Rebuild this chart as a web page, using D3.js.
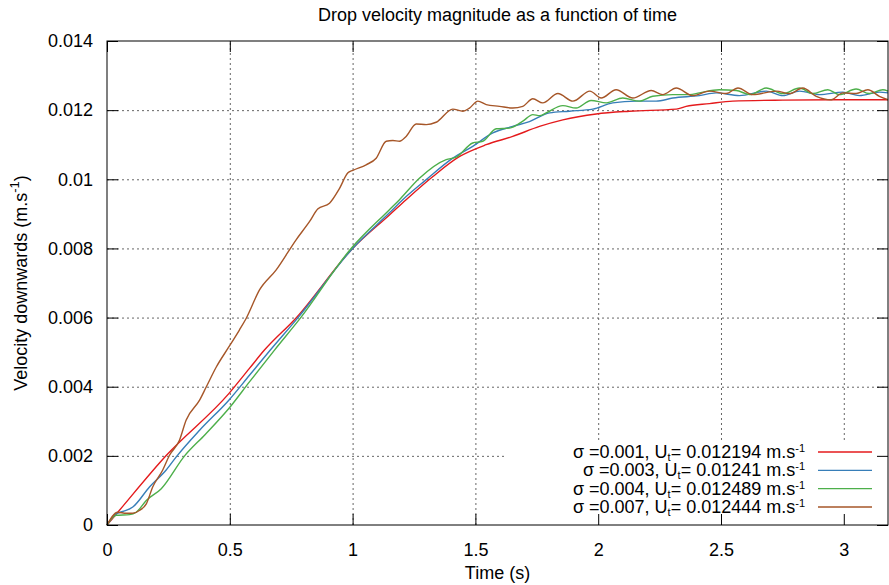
<!DOCTYPE html>
<html>
<head>
<meta charset="utf-8">
<script src="https://cdn.jsdelivr.net/npm/d3@7"></script>
<style>
  body { margin: 0; background: #fff; }
  svg { display: block; font-family: "Liberation Sans", Arial, sans-serif; }
  .grid line { stroke: #666; stroke-width: 1; stroke-dasharray: 2,3; }
  .grid path { display: none; }
  .axis path { display: none; }
  .axis line { stroke: #000; }
  .axis text { font-size: 18px; fill: #000; }
</style>
</head>
<body>
<svg id="chart"></svg>
<script>
// time (s) / velocity (m/s) pairs
const sigma_001 = [[0,0],[0.044,0.00037],[0.241,0.00201],[0.496,0.00380],[0.580,0.00453],[0.641,0.00506],[0.770,0.00599],[1.0,0.0080],[1.15,0.00897],[1.218,0.00941],[1.327,0.01008],[1.436,0.01066],[1.544,0.0110],[1.652,0.01124],[1.761,0.01153],[1.856,0.01172],[1.992,0.01189],[2.127,0.01197],[2.318,0.01203],[2.358,0.01211],[2.453,0.01219],[2.548,0.01226],[2.752,0.01229],[2.955,0.0123],[3.18,0.0123]];

const sigma_003 = [[0,0],[0.037,0.00032],[0.064,0.00039],[0.105,0.00052],[0.173,0.00110],[0.241,0.00159],[0.282,0.00197],[0.377,0.00274],[0.496,0.00361],[0.580,0.00433],[0.665,0.00506],[0.777,0.00599],[1.0,0.0080],[1.15,0.00903],[1.204,0.00941],[1.300,0.00999],[1.408,0.01061],[1.489,0.01095],[1.571,0.01134],[1.652,0.01153],[1.720,0.01167],[1.802,0.01192],[1.883,0.01197],[1.978,0.01203],[2.059,0.01221],[2.155,0.01226],[2.236,0.01226],[2.304,0.01235],[2.412,0.01242],[2.480,0.0125],[2.575,0.01242],[2.684,0.01255],[2.752,0.01242],[2.820,0.01255],[2.901,0.01245],[2.996,0.01252],[3.064,0.01242],[3.145,0.01252],[3.18,0.0125]];

const sigma_004 = [[0,0],[0.037,0.00028],[0.092,0.0003],[0.119,0.00037],[0.160,0.00071],[0.221,0.00105],[0.316,0.0020],[0.40,0.00262],[0.496,0.00337],[0.580,0.00414],[0.682,0.00506],[0.788,0.00599],[0.994,0.0080],[1.15,0.00912],[1.191,0.00941],[1.272,0.01003],[1.381,0.01057],[1.422,0.01064],[1.489,0.01105],[1.530,0.0111],[1.585,0.01146],[1.639,0.01148],[1.693,0.01168],[1.734,0.01187],[1.761,0.01184],[1.788,0.01192],[1.856,0.01213],[1.910,0.01206],[1.971,0.01228],[2.033,0.01221],[2.100,0.01235],[2.168,0.01226],[2.222,0.0124],[2.304,0.01245],[2.372,0.01245],[2.412,0.0125],[2.493,0.01259],[2.562,0.01257],[2.617,0.01245],[2.684,0.01264],[2.752,0.01248],[2.820,0.01264],[2.874,0.01248],[2.935,0.01259],[2.982,0.01245],[3.050,0.01261],[3.104,0.01248],[3.159,0.01259],[3.18,0.01255]];

const sigma_007 = [[0,0],[0.044,0.00037],[0.078,0.00034],[0.105,0.00034],[0.132,0.00042],[0.160,0.00061],[0.186,0.0011],[0.227,0.00159],[0.254,0.00201],[0.295,0.00245],[0.322,0.00303],[0.377,0.00361],[0.404,0.00399],[0.445,0.00457],[0.496,0.00515],[0.539,0.00564],[0.567,0.00598],[0.621,0.0068],[0.689,0.00738],[0.770,0.00825],[0.825,0.00878],[0.858,0.00914],[0.906,0.00931],[0.947,0.00974],[0.980,0.01018],[1.001,0.01026],[1.055,0.01042],[1.096,0.01061],[1.137,0.0111],[1.164,0.01112],[1.191,0.0111],[1.218,0.01124],[1.259,0.0116],[1.300,0.01158],[1.340,0.01165],[1.408,0.01203],[1.449,0.01197],[1.476,0.01206],[1.510,0.01226],[1.544,0.01216],[1.598,0.01211],[1.652,0.01206],[1.693,0.01211],[1.734,0.01233],[1.774,0.01221],[1.836,0.01248],[1.897,0.01226],[1.966,0.01255],[2.012,0.01235],[2.073,0.01259],[2.141,0.01235],[2.216,0.01257],[2.263,0.01245],[2.318,0.01264],[2.385,0.01242],[2.453,0.01255],[2.521,0.01248],[2.569,0.01264],[2.630,0.01245],[2.725,0.01255],[2.779,0.01248],[2.833,0.01264],[2.888,0.0124],[2.949,0.0123],[2.996,0.0125],[3.050,0.01248],[3.098,0.01259],[3.145,0.0124],[3.18,0.0123]];

const sigma_labels = ["0.001", "0.003", "0.004", "0.007"];
const ut_labels = ["0.012194", "0.01241", "0.012489", "0.012444"];
const series_colors = ["#e41a1c", "#377eb8", "#4daf4a", "#a65628"];

const x_ticks = [0, 0.5, 1, 1.5, 2, 2.5, 3];
const y_ticks = [0, 0.002, 0.004, 0.006, 0.008, 0.01, 0.012, 0.014];

const all_series = [sigma_001, sigma_003, sigma_004, sigma_007];

const margin = {top: 41, right: 1, bottom: 60, left: 107},
      width = 889 - margin.left - margin.right,
      height = 585 - margin.top - margin.bottom;

const svg = d3.select("#chart")
    .attr("width", 889)
    .attr("height", 585);

const g = svg.append("g")
    .attr("transform", "translate(" + margin.left + "," + margin.top + ")");

const xScale = d3.scaleLinear().domain([0, 3.18]).range([0, width]);
const yScale = d3.scaleLinear().domain([0, 0.014]).range([height, 0]);

//grid
g.append("g")
    .attr("class", "grid")
    .attr("transform", "translate(0," + height + ")")
    .call(d3.axisBottom(xScale).tickValues(x_ticks.slice(1)).tickSize(-height).tickFormat(""));

g.append("g")
    .attr("class", "grid")
    .call(d3.axisLeft(yScale).tickValues(y_ticks.slice(1, -1)).tickSize(-width).tickFormat(""));

// legend background hides the grid behind the key
const key_left = 505 - margin.left, key_top = 442 - margin.top;
g.append("rect")
    .attr("x", key_left)
    .attr("y", key_top)
    .attr("width", width - key_left)
    .attr("height", height - key_top)
    .attr("fill", "#fff");

//curves
const line = d3.line()
    .curve(d3.curveMonotoneX)
    .x(function (d) { return xScale(d[0]); })
    .y(function (d) { return yScale(d[1]); });

g.selectAll(".curve")
    .data(all_series)
    .enter().append("path")
    .attr("class", "curve")
    .attr("d", line)
    .attr("fill", "none")
    .attr("stroke", function (d, i) { return series_colors[i]; })
    .attr("stroke-width", 1.4)
    .attr("stroke-linejoin", "round");

//axes with inward ticks, mirrored
g.append("g")
    .attr("class", "axis")
    .attr("transform", "translate(0," + height + ")")
    .call(d3.axisBottom(xScale).tickValues(x_ticks).tickSize(-11).tickPadding(18)
        .tickFormat(function (d) { return String(d); }));

g.append("g")
    .attr("class", "axis")
    .call(d3.axisTop(xScale).tickValues(x_ticks).tickSize(-11).tickFormat(""));

g.append("g")
    .attr("class", "axis")
    .call(d3.axisLeft(yScale).tickValues(y_ticks).tickSize(-11).tickPadding(14)
        .tickFormat(function (d) { return String(d); }));

g.append("g")
    .attr("class", "axis")
    .attr("transform", "translate(" + width + ",0)")
    .call(d3.axisRight(yScale).tickValues(y_ticks).tickSize(-11).tickFormat(""));

g.append("rect")
    .attr("width", width)
    .attr("height", height)
    .attr("fill", "none")
    .attr("stroke", "#000")
    .attr("stroke-width", 1);

//titles
svg.append("text")
    .attr("x", margin.left + width / 2)
    .attr("y", 21)
    .attr("text-anchor", "middle")
    .style("font-size", "18px")
    .text("Drop velocity magnitude as a function of time");

svg.append("text")
    .attr("x", margin.left + width / 2)
    .attr("y", 579)
    .attr("text-anchor", "middle")
    .style("font-size", "18px")
    .text("Time (s)");

const ylab = svg.append("text")
    .attr("transform", "translate(27," + (margin.top + height / 2) + ") rotate(-90)")
    .attr("text-anchor", "middle")
    .style("font-size", "18px");
ylab.append("tspan").text("Velocity downwards (m.s");
ylab.append("tspan").attr("dy", -8).style("font-size", "13px").text("-1");
ylab.append("tspan").attr("dy", 8).text(")");

//legend
const key = svg.append("g").attr("class", "key");
const row_y = d3.scaleLinear().domain([0, 3]).range([452, 507]);

sigma_labels.forEach(function (s, i) {
    const t = key.append("text")
        .attr("x", 805)
        .attr("y", row_y(i) + 6)
        .attr("text-anchor", "end")
        .style("font-size", "18px");
    t.append("tspan").text("\u03c3 =" + s + ", U");
    t.append("tspan").attr("dy", 3).style("font-size", "11px").text("t");
    t.append("tspan").attr("dy", -3).text("= " + ut_labels[i] + " m.s");
    t.append("tspan").attr("dy", -6).style("font-size", "11px").text("-1");

    key.append("line")
        .attr("x1", 818).attr("x2", 872)
        .attr("y1", row_y(i)).attr("y2", row_y(i))
        .attr("stroke", series_colors[i])
        .attr("stroke-width", 1.4);
});
</script>
</body>
</html>
